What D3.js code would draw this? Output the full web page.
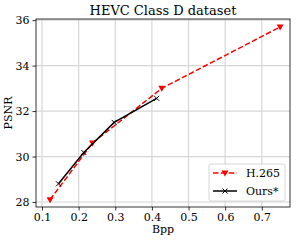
<!DOCTYPE html>
<html>
<head>
<meta charset="utf-8">
<script src="https://cdn.jsdelivr.net/npm/d3@7"></script>
<style>
  body { margin: 0; background: #fff; }
  text { font-family: "DejaVu Serif", serif; fill: #000; }
</style>
</head>
<body>
<div id="chart"></div>
<script>
const width = 296, height = 242;
const margin = { top: 19, right: 6, bottom: 35, left: 36 };

const h265Bpp = [0.122, 0.238, 0.427, 0.75];
const h265Psnr = [28.1, 30.6, 33.0, 35.7];
const oursBpp = [0.145, 0.214, 0.297, 0.413];
const oursPsnr = [28.8, 30.18, 31.5, 32.56];
const xTicks = [0.1, 0.2, 0.3, 0.4, 0.5, 0.6, 0.7];
const yTicks = [28, 30, 32, 34, 36];

let xScale = d3.scaleLinear()
  .domain([0.0836, 0.777])
  .range([margin.left, width - margin.right]);

let yScale = d3.scaleLinear()
  .domain([27.78, 36.05])
  .range([height - margin.bottom, margin.top]);

let svg = d3.select("#chart").append("svg")
  .attr("width", width)
  .attr("height", height);

// grid
svg.append("g").selectAll("line").data(xTicks).join("line")
  .attr("x1", d => xScale(d)).attr("x2", d => xScale(d))
  .attr("y1", margin.top).attr("y2", height - margin.bottom)
  .attr("stroke", "#d6d6d6").attr("stroke-width", 1.2);
svg.append("g").selectAll("line").data(yTicks).join("line")
  .attr("y1", d => yScale(d)).attr("y2", d => yScale(d))
  .attr("x1", margin.left).attr("x2", width - margin.right)
  .attr("stroke", "#d6d6d6").attr("stroke-width", 1.2);

// axes
let xAxis = svg.append("g")
  .attr("transform", `translate(0,${height - margin.bottom})`)
  .call(d3.axisBottom(xScale).tickValues(xTicks).tickFormat(d3.format(".1f")).tickSize(3.5).tickSizeOuter(0));
let yAxis = svg.append("g")
  .attr("transform", `translate(${margin.left},0)`)
  .call(d3.axisLeft(yScale).tickValues(yTicks).tickFormat(d3.format("d")).tickSize(3.5).tickSizeOuter(0));
[xAxis, yAxis].forEach(a => {
  a.select(".domain").remove();
  a.selectAll("text").attr("font-family", "DejaVu Serif").attr("font-size", 11);
  a.selectAll("line").attr("stroke", "#000").attr("stroke-width", 0.8);
});

svg.append("rect")
  .attr("x", margin.left).attr("y", margin.top)
  .attr("width", width - margin.left - margin.right)
  .attr("height", height - margin.top - margin.bottom)
  .attr("fill", "none").attr("stroke", "#000").attr("stroke-width", 0.8);

// lines
let h265 = h265Bpp.map((b, i) => [b, h265Psnr[i]]);
let ours = oursBpp.map((b, i) => [b, oursPsnr[i]]);
let line = d3.line().x(d => xScale(d[0])).y(d => yScale(d[1]));

svg.append("path").datum(h265)
  .attr("d", line).attr("fill", "none")
  .attr("stroke", "#ff0000").attr("stroke-width", 1.5)
  .attr("stroke-dasharray", "5.5,2.4");
svg.append("g").selectAll("path").data(h265).join("path")
  .attr("transform", d => `translate(${xScale(d[0])},${yScale(d[1])})`)
  .attr("d", "M-3.5,-2.5L3.5,-2.5L0,3.5Z")
  .attr("fill", "#ff0000");

svg.append("path").datum(ours)
  .attr("d", line).attr("fill", "none")
  .attr("stroke", "#000").attr("stroke-width", 1.5);
svg.append("g").selectAll("path").data(ours).join("path")
  .attr("transform", d => `translate(${xScale(d[0])},${yScale(d[1])})`)
  .attr("d", "M-2.5,-2.5L2.5,2.5M-2.5,2.5L2.5,-2.5")
  .attr("stroke", "#000").attr("stroke-width", 1);

// legend
let lg = svg.append("g");
lg.append("rect")
  .attr("x", 209).attr("y", 164).attr("width", 76).attr("height", 37)
  .attr("rx", 2).attr("fill", "#fff").attr("fill-opacity", 0.8)
  .attr("stroke", "#ccc").attr("stroke-width", 0.8);
lg.append("line").attr("x1", 213).attr("x2", 237).attr("y1", 173).attr("y2", 173)
  .attr("stroke", "#ff0000").attr("stroke-width", 1.5).attr("stroke-dasharray", "5.5,2.4");
lg.append("path").attr("transform", "translate(225,173)")
  .attr("d", "M-3.5,-2.5L3.5,-2.5L0,3.5Z").attr("fill", "#ff0000");
lg.append("text").attr("x", 246).attr("y", 173).attr("dy", "0.35em")
  .attr("font-size", 11).text("H.265");
lg.append("line").attr("x1", 213).attr("x2", 237).attr("y1", 191).attr("y2", 191)
  .attr("stroke", "#000").attr("stroke-width", 1.5);
lg.append("path").attr("transform", "translate(225,191)")
  .attr("d", "M-2.5,-2.5L2.5,2.5M-2.5,2.5L2.5,-2.5")
  .attr("stroke", "#000").attr("stroke-width", 1);
lg.append("text").attr("x", 246).attr("y", 191).attr("dy", "0.35em")
  .attr("font-size", 11).text("Ours*");

// labels
svg.append("text").attr("x", (margin.left + width - margin.right) / 2).attr("y", 15)
  .attr("text-anchor", "middle").attr("font-size", 13).text("HEVC Class D dataset");
svg.append("text").attr("x", (margin.left + width - margin.right) / 2).attr("y", 233)
  .attr("text-anchor", "middle").attr("font-size", 11).text("Bpp");
svg.append("text")
  .attr("transform", `translate(12,${(margin.top + height - margin.bottom) / 2}) rotate(-90)`)
  .attr("text-anchor", "middle").attr("font-size", 11).text("PSNR");
</script>
</body>
</html>
